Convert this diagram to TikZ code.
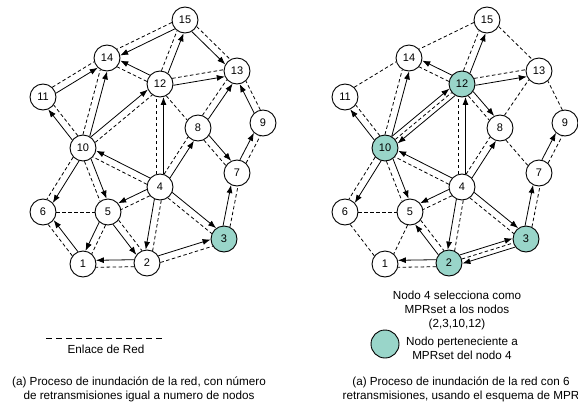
\documentclass[tikz,border=0pt]{standalone}
\usepackage{fontspec}
\setmainfont{Liberation Sans}
\usetikzlibrary{calc,arrows.meta}
\definecolor{mpr}{RGB}{153,213,201}
\tikzset{
  netnode/.style={circle, draw, line width=0.9pt, fill=white, minimum size=26pt,
    inner sep=0pt, font=\fontsize{11}{11}\selectfont},
  netlink/.style={line width=0.8pt, dash pattern=on 3.5pt off 2.5pt},
  relay/.style={line width=0.8pt, -{Latex[length=8pt,width=6pt]}},
  legenddash/.style={line width=0.9pt, dash pattern=on 5.5pt off 4.5pt},
  txt/.style={font=\fontsize{11.7}{14}\selectfont, align=center, inner sep=0pt},
}
% offset link between node centres; offset>0 shifts to the left of travel a->b
\newcommand{\offlink}[4]{%
  \draw[#1, shorten <={sqrt(180-(#4)*(#4))*1pt}, shorten >={sqrt(180-(#4)*(#4))*1pt}]
    ($(#2.center)!#4pt!90:(#3.center)$) -- ($(#3.center)!#4pt!-90:(#2.center)$);}
\begin{document}
\begin{tikzpicture}[x=1pt,y=-1pt]
\useasboundingbox (0,0) rectangle (578,407);
\clip (0,0) rectangle (578,407);

% ---- nodes of both networks ----
\foreach \n/\x/\y/\c in {15/185/20/white, 14/107/58/white, 12/160/84/white,
    13/237/71/white, 11/43/97/white, 8/198/128/white, 9/263/123/white,
    10/83/148/white, 7/237/173/white, 4/160/187/white, 6/43/212/white,
    5/108/212/white, 3/224/239/mpr, 1/83/264/white, 2/147/263/white}
  \node[netnode, fill=\c] (L\n) at (\x,\y) {\n};
\foreach \n/\x/\y/\c in {15/185/20/white, 14/107/58/white, 12/160/84/mpr,
    13/237/71/white, 11/43/97/white, 8/198/128/white, 9/263/123/white,
    10/83/148/mpr, 7/237/173/white, 4/160/187/white, 6/43/212/white,
    5/108/212/white, 3/224/239/mpr, 1/83/264/white, 2/147/263/mpr}
  \node[netnode, fill=\c] (R\n) at (\x+302,\y) {\n};

% ---- network links (left) ----
\foreach \a/\b/\d in {15/14/-3.5, 12/15/3.5, 15/13/3.5, 11/14/3.5, 12/14/3.5,
    10/14/3.5, 12/13/3.5, 10/12/-3.5, 4/12/3.5, 8/13/3.5, 9/13/-3.5,
    10/11/-3.5, 4/8/3.5, 8/7/-3.5, 7/9/-3.5, 4/10/3.5, 10/6/-3.5, 10/5/-3.5,
    3/7/-3.5, 4/5/3.5, 4/2/3.5, 4/3/-3.5, 1/6/3.5, 5/1/3.5, 5/2/3.5,
    2/1/3.5, 2/3/-3.5, 12/8/-3, 6/5/0}
  {\offlink{netlink}{L\a}{L\b}{\d}}
% ---- retransmissions (left) ----
\foreach \a/\b/\d in {15/14/3.5, 12/15/-3.5, 15/13/-3.5, 11/14/-3.5,
    12/14/-3.5, 10/14/-3.5, 12/13/-3.5, 10/12/3.5, 4/12/-3.5, 8/13/-3.5,
    9/13/3.5, 10/11/3.5, 4/8/-3.5, 8/7/3.5, 7/9/3.5, 4/10/-3.5, 10/6/3.5,
    10/5/3.5, 3/7/3.5, 4/5/-3.5, 4/2/-3.5, 4/3/3.5, 1/6/-3.5, 5/1/-3.5,
    5/2/-3.5, 2/1/-3.5, 2/3/3.5}
  {\offlink{relay}{L\a}{L\b}{\d}}

% ---- network links (right) ----
\foreach \a/\b/\d in {15/14/-3.5, 12/15/3.5, 15/13/3.5, 11/14/3.5, 12/14/3.5,
    10/14/3.5, 12/13/3.5, 10/12/0, 4/12/3.5, 8/13/3.5, 9/13/-3.5,
    10/11/-3.5, 4/8/3.5, 8/7/-3.5, 7/9/-3.5, 4/10/3.5, 10/6/-3.5, 10/5/-3.5,
    3/7/-3.5, 4/5/3.5, 4/2/3.5, 4/3/-3.5, 1/6/3.5, 5/1/3.5, 5/2/3.5,
    2/1/3.5, 2/3/0, 12/8/-3, 6/5/0}
  {\offlink{netlink}{R\a}{R\b}{\d}}
% ---- retransmissions with MPR (right) ----
\foreach \a/\b/\d in {12/15/-3.5, 12/14/-3.5, 10/14/-3.5, 10/11/3.5,
    10/12/4.5, 12/10/4.5, 12/13/-3.5, 12/8/3.5, 4/12/-3.5, 4/10/-3.5,
    4/8/-3.5, 7/9/3.5, 3/7/3.5, 4/3/3.5, 4/5/-3.5, 4/2/-3.5, 10/5/3.5,
    10/6/3.5, 2/5/3.5, 2/1/-3.5, 2/3/4.5, 3/2/4.5}
  {\offlink{relay}{R\a}{R\b}{\d}}

% ---- legend and caption (left) ----
\coordinate (ld1) at (46,338.5);
\coordinate (ld2) at (166,338.5);
\draw[legenddash] (ld1) -- (ld2);
\node[txt] (enlace) at (106,349.5) {Enlace de Red};
\node[txt] (capL) at (139,389) {(a) Proceso de inundación de la red, con número\\
  de retransmisiones igual a numero de nodos};

% ---- legend and caption (right) ----
\node[txt] (mprtxt) at (457,310) {Nodo 4 selecciona como\\MPRset a los nodos\\(2,3,10,12)};
\node[circle, draw, line width=0.9pt, fill=mpr, minimum size=28pt, inner sep=0pt]
  (legmpr) at (385,344) {};
\node[txt] (legtxt) at (462,348.5) {Nodo perteneciente a\\MPRset del nodo 4};
\node[txt] (capR) at (461,389) {(a) Proceso de inundación de la red con 6\\
  retransmisiones, usando el esquema de MPR};
\end{tikzpicture}
\end{document}
